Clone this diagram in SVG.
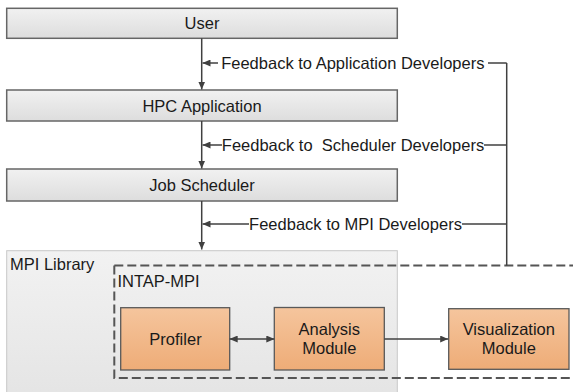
<svg xmlns="http://www.w3.org/2000/svg" width="573" height="392" viewBox="0 0 573 392">
<style>
.lbl{font-family:"Liberation Sans",Arial,sans-serif;font-size:16.5px;fill:#1a1a1a}
.mid{text-anchor:middle}
.gbox{fill:url(#gg);stroke:#666;stroke-width:1.5}
.obox{fill:url(#og);stroke:#595959;stroke-width:1.3}
.con{fill:none;stroke:#404040;stroke-width:1.5}
.dash{fill:none;stroke:#555;stroke-width:2;stroke-dasharray:9 4}
</style>
<defs>
<linearGradient id="gg" x1="0" y1="0" x2="0" y2="1"><stop offset="0" stop-color="#f1f1f1"/><stop offset="1" stop-color="#dddddd"/></linearGradient>
<linearGradient id="mg" x1="0" y1="0" x2="0" y2="1"><stop offset="0" stop-color="#f2f2f2"/><stop offset="1" stop-color="#e4e4e4"/></linearGradient>
<linearGradient id="og" x1="0" y1="0" x2="0" y2="1"><stop offset="0" stop-color="#f5c59d"/><stop offset="1" stop-color="#eeac77"/></linearGradient>
<marker id="ah" markerUnits="userSpaceOnUse" markerWidth="8" markerHeight="7" refX="8" refY="3.5" orient="auto-start-reverse"><path d="M0,0 L8,3.5 L0,7 z" fill="#404040"/></marker>
</defs>

<g id="mpi-library">
<rect x="6.7" y="250.7" width="390.6" height="150" fill="url(#mg)" stroke="#c8c8c8" stroke-width="1"/>
<text class="lbl" x="10" y="270">MPI Library</text>
</g>

<g id="intap-mpi">
<path class="dash" d="M114.3,265.5 H580"/>
<path class="dash" d="M114.3,265.5 V378 H580"/>
<text class="lbl" x="117.5" y="286.5">INTAP-MPI</text>
</g>

<g id="user">
<rect class="gbox" x="6.7" y="8.3" width="390.6" height="30"/>
<text class="lbl mid" x="202" y="29.3">User</text>
</g>
<g id="hpc-application">
<rect class="gbox" x="6.7" y="90" width="390.6" height="31"/>
<text class="lbl mid" x="202" y="111.5">HPC Application</text>
</g>
<g id="job-scheduler">
<rect class="gbox" x="6.7" y="169" width="390.6" height="32"/>
<text class="lbl mid" x="202" y="191">Job Scheduler</text>
</g>

<g id="profiler">
<rect class="obox" x="120.7" y="307.7" width="109" height="62.3"/>
<text class="lbl mid" x="175.5" y="345">Profiler</text>
</g>
<g id="analysis-module">
<rect class="obox" x="274.3" y="307.5" width="110" height="62.5"/>
<text class="lbl mid" x="329.3" y="335">Analysis</text>
<text class="lbl mid" x="329.3" y="354.3">Module</text>
</g>
<g id="visualization-module">
<rect class="obox" x="448.7" y="308.7" width="120.3" height="60.6"/>
<text class="lbl mid" x="508.8" y="335">Visualization</text>
<text class="lbl mid" x="508.8" y="354.3">Module</text>
</g>

<g id="connectors">
<path class="con" d="M201.7,38.3 V89.5" marker-end="url(#ah)"/>
<path class="con" d="M201.7,121 V168.5" marker-end="url(#ah)"/>
<path class="con" d="M201.7,201 V249.5" marker-end="url(#ah)"/>
<path class="con" d="M229.7,339 H274.3" marker-start="url(#ah)" marker-end="url(#ah)"/>
<path class="con" d="M384.3,339 H448.2" marker-end="url(#ah)"/>
<path class="con" d="M506.7,63 V265.5"/>
<path class="con" d="M506.7,63 H488"/>
<path class="con" d="M218,63 H202.5" marker-end="url(#ah)"/>
<path class="con" d="M506.7,145 H484"/>
<path class="con" d="M222,145 H202.5" marker-end="url(#ah)"/>
<path class="con" d="M506.7,224 H462"/>
<path class="con" d="M249,224 H202.5" marker-end="url(#ah)"/>
<text class="lbl mid" x="352.8" y="68.8">Feedback to Application Developers</text>
<text class="lbl mid" x="353" y="150.8" xml:space="preserve">Feedback to  Scheduler Developers</text>
<text class="lbl mid" x="355.5" y="229.8">Feedback to MPI Developers</text>
</g>
</svg>
